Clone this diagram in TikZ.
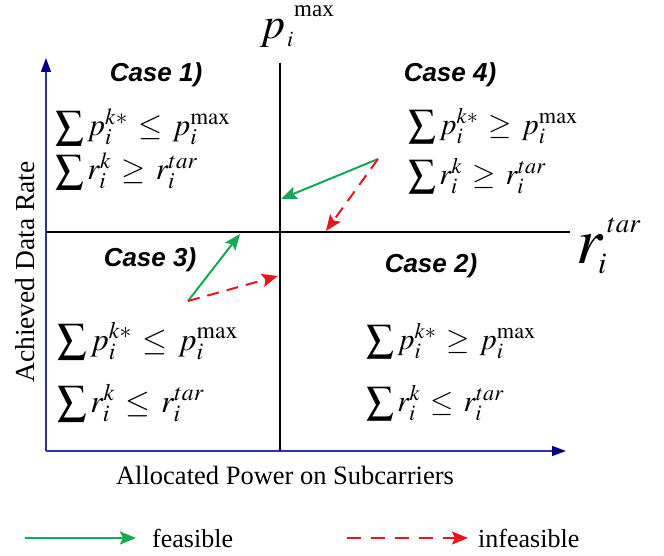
\documentclass[tikz,border=0pt]{standalone}
\usepackage{mathptmx}
\usepackage{fontspec}
\setmainfont{Liberation Serif}
\newfontfamily\casefont{Liberation Sans}
\usetikzlibrary{arrows.meta}
\newcommand\bsum{\mathop{\vcenter{\hbox{\scalebox{1.3}{$\sum$}}}}\nolimits}
\newcommand\wrel[1]{\mathrel{\,#1\,}}
\definecolor{feasgreen}{RGB}{20,170,85}
\definecolor{infred}{RGB}{235,20,30}
\definecolor{axisblue}{RGB}{50,50,160}
\definecolor{navy}{RGB}{0,0,130}
\tikzset{
  casebox/.style={inner sep=0pt,font=\casefont\bfseries\itshape\fontsize{26}{26}\selectfont},
  formula/.style={inner sep=0pt,anchor=west,font=\fontsize{32}{32}\selectfont},
  formulam/.style={inner sep=0pt,anchor=west,font=\fontsize{31}{31}\selectfont},
  formulas/.style={inner sep=0pt,anchor=west,font=\fontsize{30}{30}\selectfont},
  lbl/.style={inner sep=0pt,font=\fontsize{26}{26}\selectfont},
  thr/.style={inner sep=0pt,anchor=base west},
  axisline/.style={draw=axisblue,line width=1.3pt,-{Triangle[length=14pt,width=10pt,fill=navy,color=navy]}},
  divline/.style={draw=black,line width=2.2pt},
  feas/.style={draw=feasgreen,line width=2pt,-{Stealth[length=16pt,width=13pt,inset=3pt]}},
  infeas/.style={draw=infred,line width=2pt,dash pattern=on 12pt off 8pt,-{Stealth[length=16pt,width=13pt,inset=3pt]}},
}
\begin{document}
\begin{tikzpicture}[x=1pt,y=-1pt]
\useasboundingbox (0,0) rectangle (664,556);
% axes
\coordinate (O) at (46,451);
\coordinate (ytip) at (46,58);
\coordinate (xtip) at (566,451);
\draw[axisline] (O) -- (ytip);
\draw[axisline] (O) -- (xtip);
% dividers
\coordinate (vtop) at (280,63);
\coordinate (vbot) at (280,451);
\coordinate (hl) at (46,232);
\coordinate (hr) at (570,232);
\draw[divline] (vtop) -- (vbot);
\draw[divline] (hl) -- (hr);
% threshold labels
\node[thr,font=\fontsize{44}{44}\selectfont] (pp) at (260,39) {$p$};
\node[thr,font=\fontsize{22}{22}\selectfont] (pi) at (287,47) {$i$};
\node[thr,font=\fontsize{23}{23}\selectfont] (pmx) at (294,17) {max};
\node[thr,font=\fontsize{66}{66}\selectfont] (rr) at (576,263) {$r$};
\node[thr,font=\fontsize{30}{30}\selectfont] (ri) at (598,273) {$i$};
\node[thr,font=\fontsize{27}{27}\selectfont] (rtar) at (607,233) {$tar$};
% case labels
\node[casebox] (c1) at (156,75) {Case 1)};
\node[casebox] (c4) at (450,75) {Case 4)};
\node[casebox] (c3) at (150,260) {Case 3)};
\node[casebox] (c2) at (431,266) {Case 2)};
% formulas
\node[formulam] (f1a) at (55,127) {$\bsum p_i^{k*}\wrel{\le} p_i^{\max}$};
\node[formulam] (f1b) at (55,171) {$\bsum r_i^{k}\wrel{\ge} r_i^{tar}$};
\node[formulas] (f4a) at (408,126) {$\bsum p_i^{k*}\wrel{\ge} p_i^{\max}$};
\node[formulas] (f4b) at (408,176) {$\bsum r_i^{k}\wrel{\ge} r_i^{tar}$};
\node[formula] (f3a) at (57,341) {$\bsum p_i^{k*}\wrel{\le} p_i^{\max}$};
\node[formula] (f3b) at (57,403) {$\bsum r_i^{k}\wrel{\le} r_i^{tar}$};
\node[formulas] (f2a) at (366,341) {$\bsum p_i^{k*}\wrel{\ge} p_i^{\max}$};
\node[formulas] (f2b) at (366,403) {$\bsum r_i^{k}\wrel{\le} r_i^{tar}$};
% transition arrows
\coordinate (s4) at (378,159);
\coordinate (e4g) at (281,199);
\coordinate (e4r) at (326,231);
\coordinate (s3) at (188,301);
\coordinate (e3g) at (240,234);
\coordinate (e3r) at (278,276);
\draw[feas] (s4) -- (e4g);
\draw[infeas] (s4) -- (e4r);
\draw[feas] (s3) -- (e3g);
\draw[infeas] (s3) -- (e3r);
% axis titles
\node[lbl,font=\fontsize{26.5}{26.5}\selectfont] (xlab) at (285,475) {Allocated Power on Subcarriers};
\node[lbl,rotate=90,font=\fontsize{27.5}{27.5}\selectfont] (ylab) at (25,272) {Achieved Data Rate};
% legend
\coordinate (lg1) at (25,538);
\coordinate (lg2) at (136,538);
\coordinate (lr1) at (347,538);
\coordinate (lr2) at (468,538);
\draw[feas] (lg1) -- (lg2);
\draw[infeas,dash pattern=on 14pt off 10pt] (lr1) -- (lr2);
\node[lbl,anchor=west] (feastxt) at (152,538) {feasible};
\node[lbl,anchor=west] (infeastxt) at (478,538) {infeasible};
\end{tikzpicture}
\end{document}
